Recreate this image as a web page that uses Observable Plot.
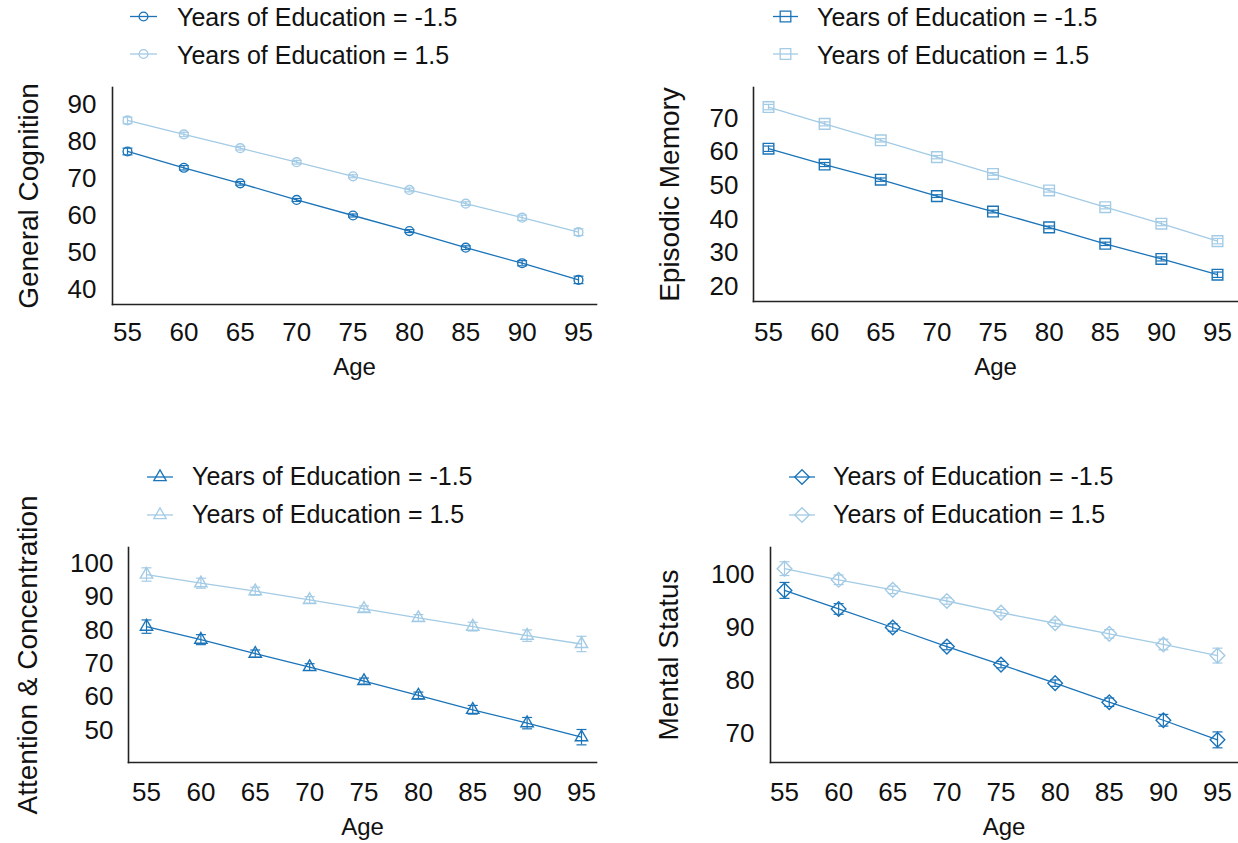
<!DOCTYPE html>
<html>
<head>
<meta charset="utf-8">
<script src="https://cdn.jsdelivr.net/npm/d3@7"></script>
<script src="https://cdn.jsdelivr.net/npm/@observablehq/plot@0.6"></script>
<style>
  html, body { margin: 0; padding: 0; background: #fff; }
  #page { position: relative; width: 1238px; height: 843px; overflow: hidden; background: #fff;
          font-family: "Liberation Sans", Arial, sans-serif; }
  .panel { position: absolute; }
  #legends { position: absolute; left: 0; top: 0; pointer-events: none; }
</style>
</head>
<body>
<div id="page"></div>
<script>
// Predicted scores by age at two levels of (centred) years of education
const ages = [55, 60, 65, 70, 75, 80, 85, 90, 95];
const groups = ["Years of Education = -1.5", "Years of Education = 1.5"];

const generalLow     = [77.3, 72.9, 68.7, 64.2, 60.0, 55.8, 51.3, 47.1, 42.6];
const generalHigh    = [85.7, 81.9, 78.2, 74.4, 70.6, 66.9, 63.2, 59.4, 55.5];
const generalLowErr  = [0.9, 0.6, 0.5, 0.4, 0.4, 0.4, 0.5, 0.7, 1.0];
const generalHighErr = [0.9, 0.6, 0.5, 0.5, 0.4, 0.5, 0.5, 0.7, 0.9];

const episodicLow     = [61.0, 56.3, 51.8, 46.9, 42.3, 37.6, 32.7, 28.2, 23.5];
const episodicHigh    = [73.4, 68.4, 63.5, 58.5, 53.5, 48.6, 43.6, 38.7, 33.5];
const episodicLowErr  = [0.8, 0.6, 0.5, 0.4, 0.4, 0.4, 0.5, 0.6, 0.8];
const episodicHighErr = [0.8, 0.6, 0.5, 0.5, 0.4, 0.5, 0.5, 0.6, 0.8];

const attentionLow     = [81.1, 77.2, 73.0, 69.0, 64.8, 60.5, 56.2, 52.2, 48.0];
const attentionHigh    = [96.7, 94.1, 91.7, 89.1, 86.4, 83.7, 81.1, 78.4, 75.9];
const attentionLowErr  = [2.0, 1.5, 1.1, 1.0, 0.9, 1.0, 1.3, 1.7, 2.3];
const attentionHighErr = [2.0, 1.5, 1.2, 1.0, 0.9, 1.0, 1.3, 1.7, 2.3];

const mentalLow     = [97.0, 93.5, 90.0, 86.4, 83.0, 79.5, 75.9, 72.5, 68.8];
const mentalHigh    = [101.1, 99.0, 97.1, 95.0, 92.8, 90.8, 88.8, 86.8, 84.7];
const mentalLowErr  = [1.5, 1.0, 0.7, 0.6, 0.6, 0.6, 0.8, 1.1, 1.5];
const mentalHighErr = [1.3, 0.9, 0.7, 0.6, 0.6, 0.6, 0.8, 1.0, 1.4];

const generalTicks   = [40, 50, 60, 70, 80, 90];
const episodicTicks  = [20, 30, 40, 50, 60, 70];
const attentionTicks = [50, 60, 70, 80, 90, 100];
const mentalTicks    = [70, 80, 90, 100];

const DARK = "#1b74b8";
const LIGHT = "#a3cbe5";
const AXIS = "#222";
const INK = "#111";
const FONT = '"Liberation Sans", Arial, sans-serif';

// Horizontal cap drawn at each end of an error bar
const capSymbol = {
  draw(context, size) {
    const w = Math.sqrt(size / Math.PI);
    context.moveTo(-w, 0);
    context.lineTo(w, 0);
  }
};

const symbolTypes = {
  circle: d3.symbolCircle,
  square: d3.symbolSquare,
  triangle: d3.symbolTriangle,
  diamond2: d3.symbolDiamond2
};

function rowsFor(low, high, lowErr, highErr) {
  return ages.flatMap((age, i) => [
    {age, group: groups[0], value: low[i], err: lowErr[i]},
    {age, group: groups[1], value: high[i], err: highErr[i]}
  ]);
}

const panels = [
  {
    title: "General Cognition", rows: rowsFor(generalLow, generalHigh, generalLowErr, generalHighErr),
    ticks: generalTicks, symbol: "circle", r: 4.4,
    left: 0, top: 75, width: 620, height: 305,
    margin: {left: 112, right: 24, top: 12, bottom: 76},
    inset: {left: 15, right: 18, top: 17, bottom: 15},
    xPad: 18, yPad: 16, titleDx: -83, ageDy: 53,
    legend: {x0: 130, x1: 157, textX: 177, rows: [16.5, 54], baselines: [26, 64]}
  },
  {
    title: "Episodic Memory", rows: rowsFor(episodicLow, episodicHigh, episodicLowErr, episodicHighErr),
    ticks: episodicTicks, symbol: "square", r: 6,
    left: 620, top: 75, width: 618, height: 305,
    margin: {left: 133, right: 1, top: 12, bottom: 79},
    inset: {left: 15, right: 20, top: 31, bottom: 15},
    xPad: 21, yPad: 15, titleDx: -83, ageDy: 56,
    legend: {x0: 773, x1: 798, textX: 817, rows: [16.5, 54], baselines: [26, 64]}
  },
  {
    title: "Attention & Concentration", rows: rowsFor(attentionLow, attentionHigh, attentionLowErr, attentionHighErr),
    ticks: attentionTicks, symbol: "triangle", r: 4.6,
    left: 0, top: 535, width: 620, height: 308,
    margin: {left: 128, right: 24, top: 12, bottom: 81},
    inset: {left: 18, right: 15, top: 16, bottom: 32},
    xPad: 20, yPad: 15, titleDx: -100, ageDy: 55,
    legend: {x0: 147, x1: 173, textX: 192, rows: [477, 515], baselines: [485, 523]}
  },
  {
    title: "Mental Status", rows: rowsFor(mentalLow, mentalHigh, mentalLowErr, mentalHighErr),
    ticks: mentalTicks, symbol: "diamond2", r: 6.6,
    left: 620, top: 535, width: 618, height: 308,
    margin: {left: 150, right: 1, top: 12, bottom: 81},
    inset: {left: 14, right: 20, top: 27, bottom: 29},
    xPad: 20, yPad: 16, titleDx: -101, ageDy: 55,
    legend: {x0: 789, x1: 815, textX: 833, rows: [477, 515], baselines: [485, 523]}
  }
];

const page = document.getElementById("page");

for (const p of panels) {
  const yDomain = d3.extent(p.ticks);
  const chart = Plot.plot({
    width: p.width,
    height: p.height,
    marginLeft: p.margin.left,
    marginRight: p.margin.right,
    marginTop: p.margin.top,
    marginBottom: p.margin.bottom,
    style: {fontFamily: FONT, fontSize: "26px", color: INK, background: "transparent", overflow: "visible"},
    x: {domain: [ages[0], ages[ages.length - 1]], insetLeft: p.inset.left, insetRight: p.inset.right},
    y: {domain: yDomain, insetTop: p.inset.top, insetBottom: p.inset.bottom},
    color: {domain: groups, range: [DARK, LIGHT]},
    marks: [
      Plot.frame({anchor: "left", stroke: AXIS, strokeWidth: 1.6}),
      Plot.frame({anchor: "bottom", stroke: AXIS, strokeWidth: 1.6}),
      Plot.axisX(ages, {tickSize: 0, tickPadding: p.xPad, label: null, fontSize: 26}),
      Plot.axisY(p.ticks, {tickSize: 0, tickPadding: p.yPad, label: null, fontSize: 26}),
      Plot.text([p.title], {frameAnchor: "left", rotate: -90, dx: p.titleDx, lineAnchor: "middle",
                            textAnchor: "middle", fontSize: 28, fill: INK}),
      Plot.text(["Age"], {frameAnchor: "bottom", dy: p.ageDy, lineAnchor: "top", fontSize: 24, fill: INK}),
      Plot.line(p.rows, {x: "age", y: "value", z: "group", stroke: "group", strokeWidth: 1.3}),
      Plot.ruleX(p.rows, {x: "age", y1: d => d.value - d.err, y2: d => d.value + d.err,
                          stroke: "group", strokeWidth: 1.2}),
      Plot.dot(p.rows, {x: "age", y: d => d.value - d.err, symbol: capSymbol, r: 5, stroke: "group", strokeWidth: 1.2}),
      Plot.dot(p.rows, {x: "age", y: d => d.value + d.err, symbol: capSymbol, r: 5, stroke: "group", strokeWidth: 1.2}),
      Plot.dot(p.rows, {x: "age", y: "value", symbol: p.symbol, r: p.r, stroke: "group", fill: "none", strokeWidth: 1.4})
    ]
  });
  chart.classList.add("panel");
  chart.style.left = p.left + "px";
  chart.style.top = p.top + "px";
  page.appendChild(chart);
}

// Legends above each panel
const legendSvg = d3.select(page).append("svg")
  .attr("id", "legends")
  .attr("width", 1238)
  .attr("height", 843)
  .style("font-family", FONT);

const colors = [DARK, LIGHT];
for (const p of panels) {
  const L = p.legend;
  groups.forEach((g, i) => {
    const row = legendSvg.append("g");
    row.append("line")
      .attr("x1", L.x0).attr("x2", L.x1)
      .attr("y1", L.rows[i]).attr("y2", L.rows[i])
      .attr("stroke", colors[i]).attr("stroke-width", 1.3);
    row.append("path")
      .attr("transform", `translate(${(L.x0 + L.x1) / 2},${L.rows[i]})`)
      .attr("d", d3.symbol(symbolTypes[p.symbol], Math.PI * p.r * p.r)())
      .attr("fill", "none")
      .attr("stroke", colors[i]).attr("stroke-width", 1.3);
    row.append("text")
      .attr("x", L.textX).attr("y", L.baselines[i])
      .attr("font-size", 25)
      .attr("fill", INK)
      .text(g);
  });
}
</script>
</body>
</html>
